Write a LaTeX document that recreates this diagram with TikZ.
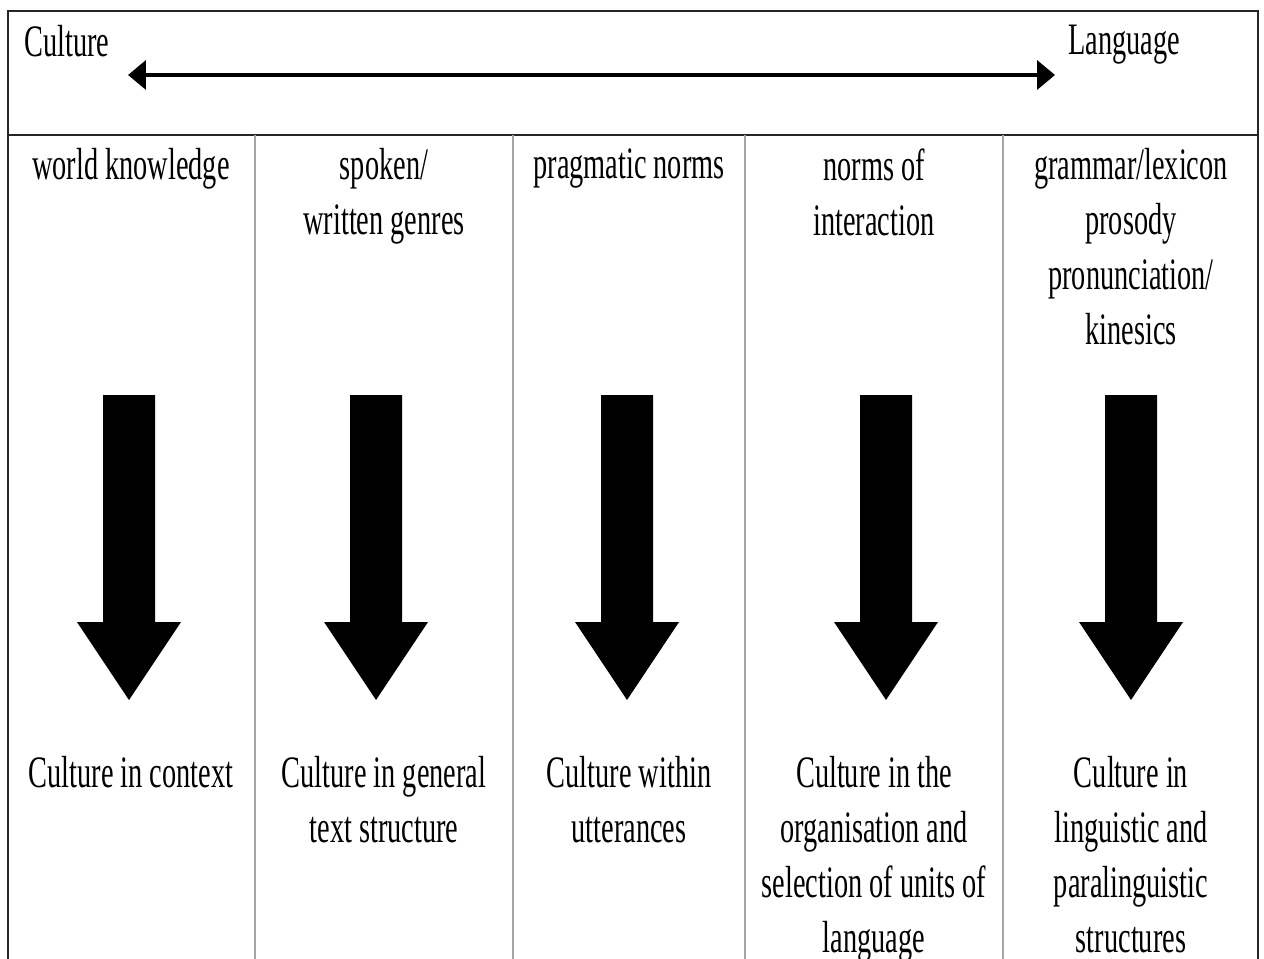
\documentclass[tikz,border=0pt]{standalone}
\usepackage{fontspec}
\setmainfont{Liberation Serif}[FakeStretch=0.63]
\usetikzlibrary{arrows.meta}

\begin{document}
\begin{tikzpicture}[
  x=0.02cm, y=-0.02cm,
  font=\fontsize{25.6pt}{31.3pt}\selectfont,
  frame/.style={draw=black!85, line width=1.2pt},
  divider/.style={draw=black!35, line width=0.6pt},
  hdr/.style={anchor=north west, inner sep=0pt},
  cell/.style={anchor=north, align=center, inner sep=0pt},
  res/.style={cell},
  flow/.style={{Triangle[length=0.36cm,width=0.58cm]}-{Triangle[length=0.36cm,width=0.58cm]}, line width=2.1pt},
  bigarrow/.style={fill=black},
]
\useasboundingbox (0,0) rectangle (1264,959);

% ---------- frame + columns ----------
\draw[frame] (8,959) -- (8,11) -- (1258,11) -- (1258,959);
\draw[frame] (8,135) -- (1258,135);
\foreach \x in {255,513,745,1003}
  \draw[divider] (\x,135) -- (\x,959);

% ---------- header ----------
\node[hdr] (CU) at (24,25) {Culture};
\node[hdr] (LA) at (1068,25) {Language};
\coordinate (CL) at (128,75);
\coordinate (LL) at (1055,75);
\draw[flow] (CL) -- (LL);

% ---------- top row ----------
\node[cell] (T1) at (131,148) {world knowledge};
\node[cell] (T2) at (384,148) {spoken/\\written genres};
\node[cell] (T3) at (629,148) {pragmatic norms};
\node[cell] (T4) at (874,148) {norms of\\interaction};
\node[cell] (T5) at (1131,148) {grammar/lexicon\\prosody\\pronunciation/\\kinesics};

% ---------- block arrows ----------
\foreach \c in {129,376,627,886,1131}
  \fill[bigarrow] (\c-26,395) -- (\c+26,395) -- (\c+26,622) -- (\c+52,622)
    -- (\c,700) -- (\c-52,622) -- (\c-26,622) -- cycle;

% ---------- bottom row ----------
\node[res] (B1) at (131,756) {Culture in context};
\node[res] (B2) at (384,756) {Culture in general\\text structure};
\node[res] (B3) at (629,756) {Culture within\\utterances};
\node[res] (B4) at (874,756) {Culture in the\\organisation and\\selection of units of\\language};
\node[res] (B5) at (1131,756) {Culture in\\linguistic and\\paralinguistic\\structures};

\end{tikzpicture}
\end{document}
